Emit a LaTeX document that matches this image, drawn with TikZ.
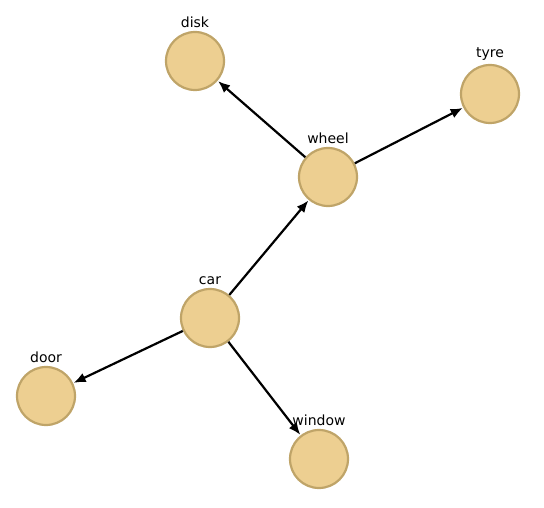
\documentclass[tikz,border=0pt]{standalone}
\usepackage{fontspec}
\setmainfont{DejaVu Sans}
\usetikzlibrary{arrows.meta}
\definecolor{partfill}{HTML}{EDCF91}
\definecolor{partline}{HTML}{BFA468}
\begin{document}
\begin{tikzpicture}[x=1pt,y=-1pt,
    every node/.style={font=\fontsize{14}{16}\selectfont},
    part/.style={circle,draw=partline,fill=partfill,line width=2.2pt,minimum size=58pt,inner sep=0pt,label distance=-1pt},
    link/.style={-{Latex[length=12pt,width=10pt]},line width=2.2pt,shorten >=0.5pt}]
  \useasboundingbox (0,0) rectangle (544,508);
  \node[part,label={above:disk}] (disk) at (195,61) {};
  \node[part,label={above:tyre}] (tyre) at (490,94) {};
  \node[part,label={above:wheel}] (wheel) at (328,177) {};
  \node[part,label={above:car}] (car) at (210,318) {};
  \node[part,label={above:door}] (door) at (46,396) {};
  \node[part,label={above:window}] (window) at (319,459) {};
  \draw[link] (car)--(wheel);\draw[link] (car)--(door);\draw[link] (car)--(window);
  \draw[link] (wheel)--(disk);\draw[link] (wheel)--(tyre);
\end{tikzpicture}
\end{document}
